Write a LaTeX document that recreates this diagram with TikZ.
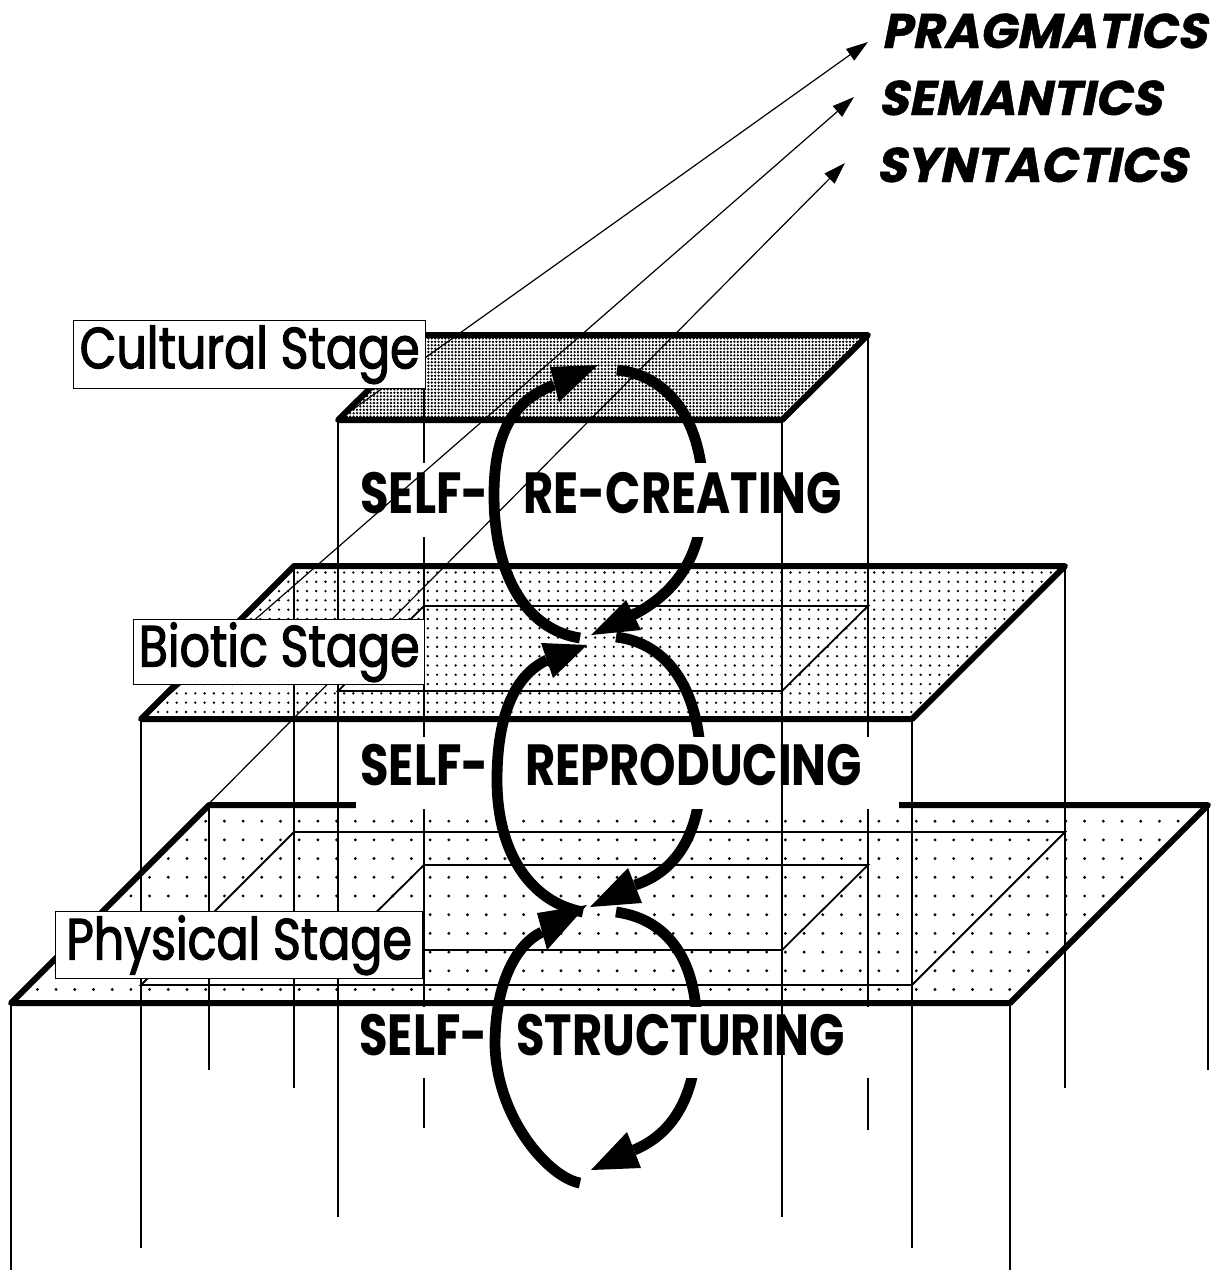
\documentclass[tikz,border=0pt]{standalone}
\usepackage{fontspec}
\newfontfamily\labfont[FakeStretch=0.82,FakeBold=2]{Poppins}
\newfontfamily\rowfnt[FakeStretch=0.8]{Poppins}
\newfontfamily\semfont[FakeSlant=0.2,FakeBold=1]{Poppins}
\usetikzlibrary{arrows.meta,patterns.meta}
\begin{document}
\begin{tikzpicture}[x=0.5pt,y=-0.5pt,
  edge/.style={line width=3pt,line join=round},
  fine/.style={line width=0.9pt},
  loopline/.style={line width=5.4pt},
  rowtext/.style={font=\rowfnt\bfseries\fontsize{29}{30}\selectfont,inner sep=0pt,anchor=base west},
  stagelabel/.style={draw,line width=0.7pt,fill=white,font=\labfont\fontsize{29}{30}\selectfont,inner xsep=1pt,inner ysep=0pt,anchor=north west},
  semword/.style={font=\semfont\bfseries\fontsize{24.3}{25}\selectfont,inner sep=0pt,anchor=base west},
  pointer/.style={line width=0.6pt,-{Triangle[length=11pt,width=7pt]}}
]
\useasboundingbox (0,0) rectangle (1212,1270);

% plane corners
\coordinate (pFL) at (11,1003); \coordinate (pFR) at (1010,1003);
\coordinate (pBR) at (1208,805); \coordinate (pBL) at (209,805);
\coordinate (bFL) at (141,719); \coordinate (bFR) at (912,719);
\coordinate (bBR) at (1065,566); \coordinate (bBL) at (294,566);
\coordinate (cFL) at (338,420); \coordinate (cFR) at (782,420);
\coordinate (cBR) at (868,335); \coordinate (cBL) at (424,335);

% planes
\fill[white] (pFL)--(pFR)--(pBR)--(pBL)--cycle;
\fill[pattern={Dots[distance=9.35pt,radius=0.8pt]}] (pFL)--(pFR)--(pBR)--(pBL)--cycle;
\draw[edge] (pFL)--(pFR)--(pBR)--(pBL)--cycle;
\fill[white] (bFL)--(bFR)--(bBR)--(bBL)--cycle;
\fill[pattern={Dots[distance=4.65pt,radius=0.65pt]}] (bFL)--(bFR)--(bBR)--(bBL)--cycle;
\draw[edge] (bFL)--(bFR)--(bBR)--(bBL)--cycle;
\fill[white] (cFL)--(cFR)--(cBR)--(cBL)--cycle;
\fill[pattern={Dots[distance=1.7pt,radius=0.63pt]}] (cFL)--(cFR)--(cBR)--(cBL)--cycle;
\draw[edge] (cFL)--(cFR)--(cBR)--(cBL)--cycle;

% sections of the upper boxes on the lower planes
\draw[fine] (141,985)--(912,985)--(1065,832)--(294,832)--cycle;
\draw[fine] (338,950)--(782,950)--(868,865)--(424,865)--cycle;
\draw[fine] (338,691)--(782,691)--(868,606)--(424,606)--cycle;

% vertical edges
\draw[fine] (pFL)--+(0,267);
\draw[fine] (pFR)--+(0,267);
\draw[fine] (pBL)--+(0,265);
\draw[fine] (pBR)--+(0,265);
\draw[fine] (bFL)--+(0,529);
\draw[fine] (bFR)--+(0,529);
\draw[fine] (bBL)--+(0,522);
\draw[fine] (bBR)--+(0,522);
\draw[fine] (cFL)--+(0,797);
\draw[fine] (cBL)--+(0,793);
\draw[fine] (cBR)--+(0,795);

% right (rear) halves of the loops
\draw[loopline] (617,370) .. controls (668,375) and (703,420) .. (703,495) .. controls (703,560) and (672,595) .. (633,615);
\draw[loopline] (616,637) .. controls (668,643) and (701,690) .. (701,770) .. controls (701,835) and (675,872) .. (635,885);
\draw[loopline] (616,912) .. controls (660,918) and (697,950) .. (697,1030) .. controls (697,1100) and (670,1135) .. (634,1150);

% white bands behind the row texts
\fill[white] (356,463) rectangle (855,537);
\fill[white] (356,737) rectangle (899,809);
\fill[white] (352,1007) rectangle (880,1078);

% front right edge of the top box
\draw[fine] (cFR)--+(0,797);

% row texts
\node[rowtext] (self1) at (360,513) {SELF-};
\node[rowtext] (recreate) at (523,513) {RE-CREATING};
\node[rowtext] (self2) at (360,785) {SELF-};
\node[rowtext] (reproduce) at (525,785) {REPRODUCING};
\node[rowtext] (self3) at (359,1055) {SELF-};
\node[rowtext] (structure) at (516,1055) {STRUCTURING};

% semiotic levels
\node[semword] (prag) at (881,48) {PRAGMATICS};
\node[semword] (sema) at (878,115) {SEMANTICS};
\node[semword] (synt) at (876,182) {SYNTACTICS};
\coordinate (tipP) at (868,42);
\coordinate (tipSe) at (854,97);
\coordinate (tipSy) at (845,163);
\draw[pointer] (cFL)--(tipP);
\draw[pointer] (bFL)--(tipSe);
\draw[pointer] (pFL)--(tipSy);

% left (front) halves of the loops
\draw[loopline] (580,638) .. controls (528,630) and (494,578) .. (494,495) .. controls (494,430) and (515,400) .. (554,385);
\draw[loopline] (583,912) .. controls (530,902) and (497,852) .. (497,780) .. controls (497,715) and (515,675) .. (547,660);
\draw[loopline] (580,1183) .. controls (550,1178) and (497,1120) .. (495,1045) .. controls (495,985) and (515,945) .. (542,932);

% arrowheads
\fill (598,365)--(550,367)--(559,402)--cycle;
\fill (591,635)--(626,600)--(641,630)--cycle;
\fill (587,645)--(541,643)--(553,678)--cycle;
\fill (590,907)--(628,868)--(642,903)--cycle;
\fill (587,905)--(537,913)--(547,950)--cycle;
\fill (591,1170)--(627,1132)--(641,1168)--cycle;

% stage labels
\node[stagelabel,minimum width=176pt,minimum height=34pt] (cultural) at (73,320) {Cultural Stage};
\node[stagelabel,minimum width=145.5pt,minimum height=32.5pt] (biotic) at (133,619) {Biotic Stage};
\node[stagelabel,minimum width=183.5pt,minimum height=33.5pt] (physical) at (55,911) {Physical Stage};
\end{tikzpicture}
\end{document}
